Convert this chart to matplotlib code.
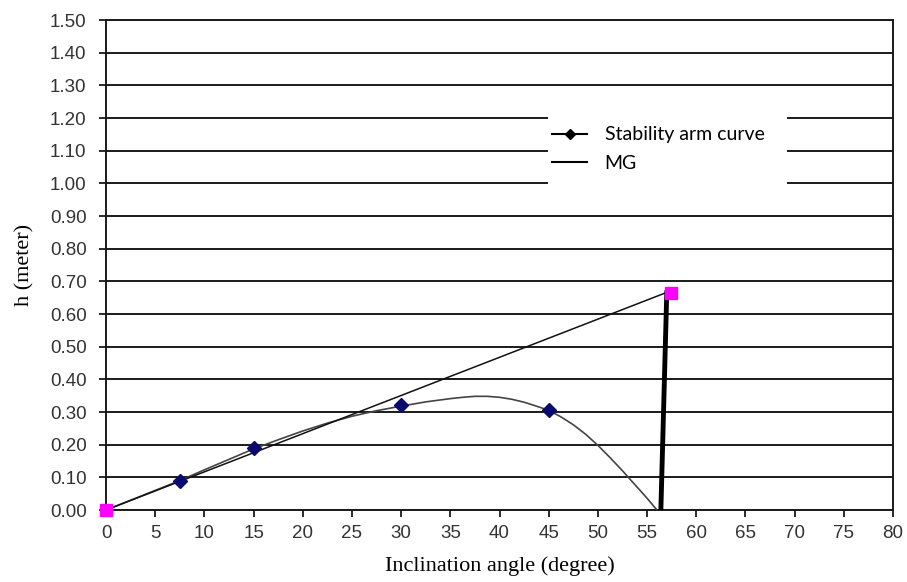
import matplotlib.pyplot as plt
from matplotlib.patches import Rectangle
import numpy as np

# stability arm curve
curve_x = [0, 2.5, 5, 7.5, 10, 12.5, 15, 17.5, 20, 22.5, 25, 27.5, 30, 32.5,
           35, 36.25, 37.5, 38.75, 40, 41.25, 42.5, 43.75, 45, 46.25, 47.5,
           48.75, 50, 51.25, 52.5, 53.75, 55, 56]
curve_y = [0, 0.030, 0.060, 0.090, 0.123, 0.155, 0.187, 0.215, 0.242, 0.266,
           0.287, 0.304, 0.318, 0.331, 0.341, 0.345, 0.348, 0.348, 0.345,
           0.339, 0.330, 0.318, 0.305, 0.285, 0.261, 0.232, 0.198, 0.160,
           0.120, 0.078, 0.036, 0.0]

# measured points
pts_x = [7.5, 15, 30, 45]
pts_y = [0.09, 0.19, 0.32, 0.305]

# MG line
mg_x = [0, 56.9]
mg_y = [0, 0.665]
drop_x = [57.0, 56.4]
drop_y = [0.665, 0.0]
sq_x = [0, 57.4]
sq_y = [0, 0.665]

fig = plt.figure(figsize=(9.07, 5.82), dpi=100)
ax = fig.add_axes([0.1169, 0.1237, 0.8677, 0.8419])

yt = np.arange(0, 1.51, 0.1)
for v in yt:
    ax.axhline(v, color='#1a1a1a', lw=1.4, zorder=1)

ax.plot(curve_x, curve_y, color='#444444', lw=1.2, zorder=3)
ax.plot(pts_x, pts_y, ls='none', marker='D', ms=7, color='#0a0a6e', zorder=4)
ax.plot(mg_x, mg_y, color='#111111', lw=1.1, zorder=3)
ax.plot(drop_x, drop_y, color='black', lw=3.5, zorder=4)
ax.plot(sq_x, sq_y, ls='none', marker='s', ms=9, color='#ff00ff', zorder=5,
        clip_on=False)

# white box behind the legend
ax.add_patch(Rectangle((0.5616, 0.653), 0.3037, 0.174, transform=ax.transAxes,
                       facecolor='white', edgecolor='none', zorder=5))

# legend proxies
h1, = ax.plot([], [], color='black', lw=1.5, marker='D', ms=5)
h2, = ax.plot([], [], color='black', lw=1.5)
leg = ax.legend([h1, h2], ['Stability arm curve', 'MG'], loc='upper left',
                bbox_to_anchor=(0.5667, 0.783), frameon=False,
                prop={'family': 'Lato', 'size': 14}, handlelength=1.8,
                handletextpad=0.9, labelspacing=0.6, borderpad=0,
                borderaxespad=0)
leg.set_zorder(6)

ax.set_xlim(0, 80)
ax.set_ylim(0, 1.5)
ax.set_xticks(np.arange(0, 81, 5))
ax.set_yticks(yt)
ax.set_yticklabels(['%.2f' % v for v in yt])
for s in ax.spines.values():
    s.set_color('#1a1a1a')
    s.set_linewidth(1.4)
ax.tick_params(direction='out', length=5, width=1.3, color='#1a1a1a',
               labelsize=13.5, labelcolor='#333333')
ax.tick_params(axis='y', pad=9)
ax.tick_params(axis='x', pad=6)
for lab in ax.get_xticklabels() + ax.get_yticklabels():
    lab.set_family('Liberation Sans')

ax.set_xlabel('Inclination angle (degree)', family='Liberation Serif',
              fontsize=16, labelpad=10)
ax.set_ylabel('h (meter)', family='Liberation Serif', fontsize=16, labelpad=11)

fig.savefig('out.png', dpi=100)
